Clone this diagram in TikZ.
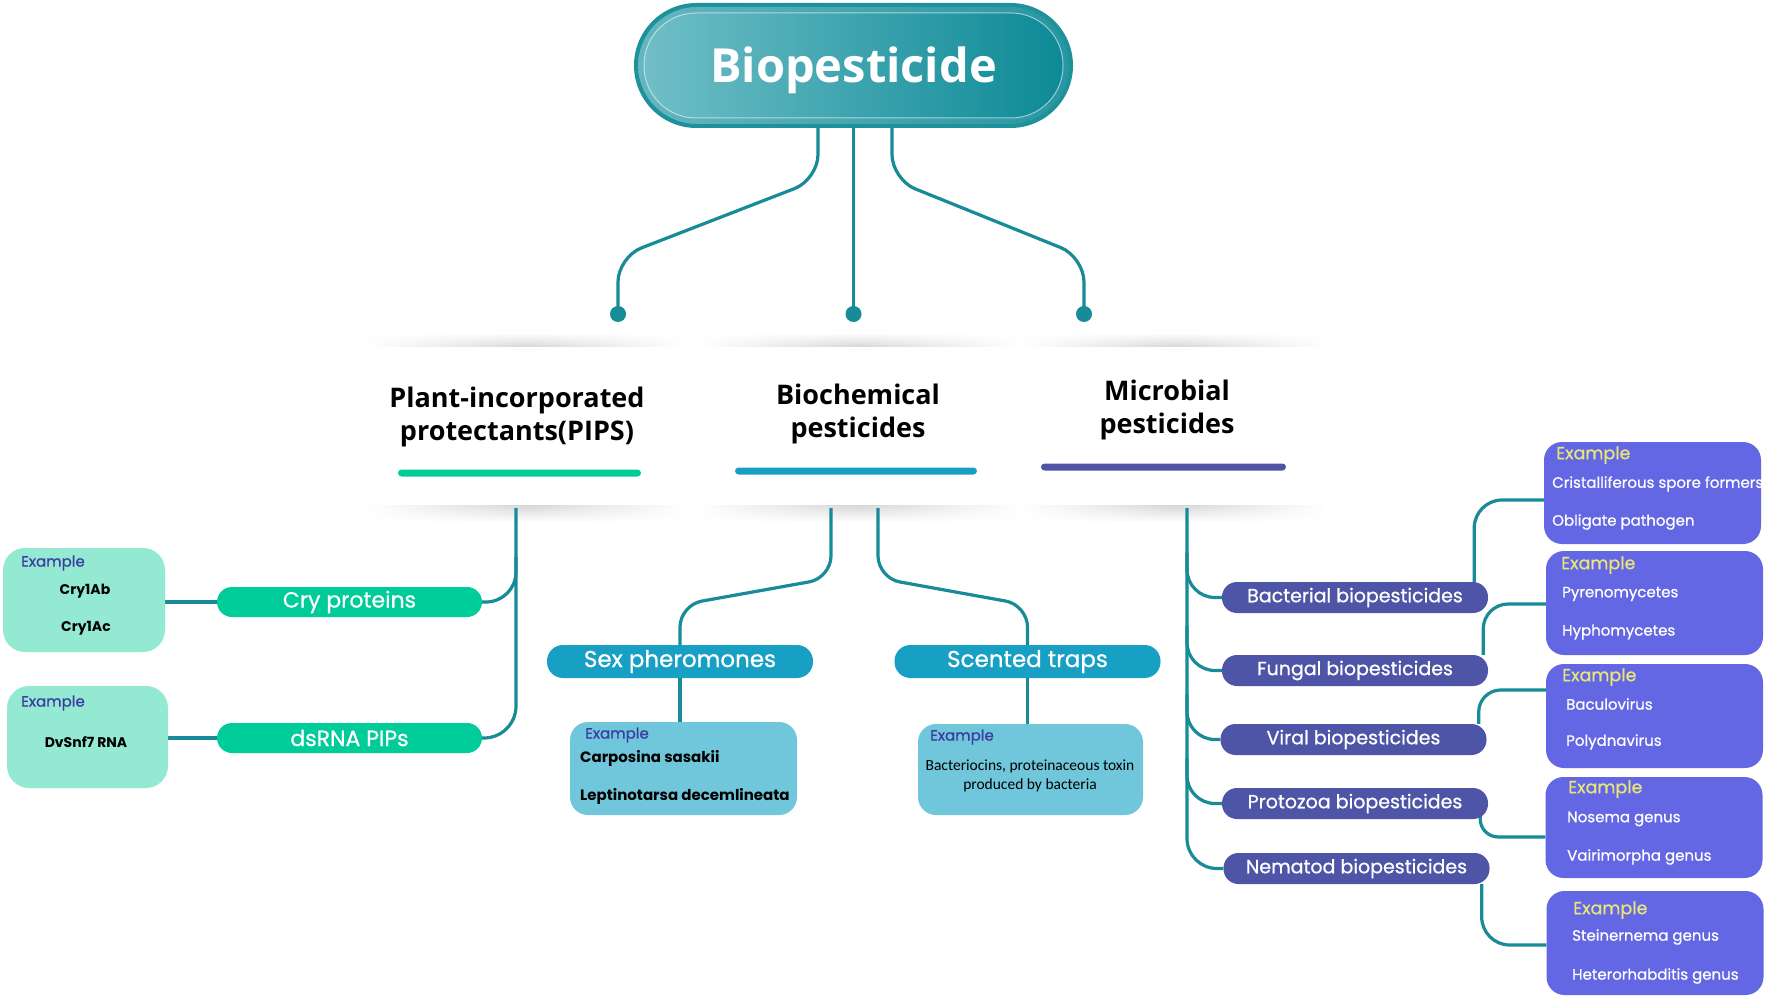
\documentclass[tikz,border=0pt]{standalone}
\usepackage{fontspec}
\setmainfont{Open Sans}
\newfontfamily\pop{Poppins}
\newfontfamily\popm{Poppins}[FakeBold=0.7]
\newfontfamily\carl{Carlito}
\usetikzlibrary{calc,fadings}
\definecolor{conncol}{RGB}{24,139,152}
\definecolor{cgreen}{RGB}{0,204,153}
\definecolor{cmint}{RGB}{148,233,211}
\definecolor{cblue}{RGB}{24,160,196}
\definecolor{clblue}{RGB}{112,198,218}
\definecolor{cind}{RGB}{79,85,166}
\definecolor{cviol}{RGB}{99,103,228}
\definecolor{cyel}{RGB}{232,230,122}
\definecolor{cdkb}{RGB}{60,60,160}
\definecolor{tealA}{RGB}{30,145,155}
\definecolor{ringL}{RGB}{100,182,192}
\definecolor{ringR}{RGB}{40,150,162}
\definecolor{gradL}{RGB}{112,190,199}
\definecolor{gradR}{RGB}{12,138,150}
\tikzfading[name=sidefade, left color=transparent!100, right color=transparent!100, middle color=transparent!0]
\pgfdeclarelayer{back}
\pgfdeclarelayer{mid}
\pgfsetlayers{back,mid,main}
\tikzset{
  conn/.style={draw=conncol, line width=3.2pt},
  dot/.style={circle, fill=conncol, minimum size=16pt, inner sep=0pt},
  pill/.style={rectangle, rounded corners=15pt, minimum height=30pt, inner sep=0pt, text=white},
  gpill/.style={pill, fill=cgreen, minimum width=265pt, font=\popm\fontsize{22}{22}\selectfont},
  bpill/.style={pill, fill=cblue, minimum width=266pt, minimum height=33pt, rounded corners=16pt, font=\popm\fontsize{23}{23}\selectfont},
  ipill/.style={pill, fill=cind, minimum width=266pt, minimum height=31pt, font=\popm\fontsize{19}{19}\selectfont},
  mintbox/.style={rectangle, rounded corners=22pt, fill=cmint, inner sep=0pt},
  lbbox/.style={rectangle, rounded corners=18pt, fill=clblue, inner sep=0pt},
  vbox/.style={rectangle, rounded corners=18pt, fill=cviol, minimum width=217pt, inner sep=0pt},
  exdark/.style={anchor=west, inner sep=0pt, text=cdkb, font=\popm\fontsize{15}{15}\selectfont},
  exyel/.style={anchor=west, inner sep=0pt, text=cyel, font=\popm\fontsize{17.5}{17.5}\selectfont},
  vitem/.style={anchor=west, inner sep=0pt, text=white, font=\popm\fontsize{15}{15}\selectfont},
  bitem/.style={inner sep=0pt, text=black, font=\pop\bfseries\fontsize{14}{14}\selectfont},
  cat/.style={align=center, inner sep=0pt, font=\bfseries\fontsize{27}{33}\selectfont},
  bar/.style={rectangle, rounded corners=3.5pt, minimum height=7pt, inner sep=0pt},
}
\begin{document}
\begin{tikzpicture}[x=1pt,y=-1pt]
\useasboundingbox (0,0) rectangle (1770,1000);

% background and category panels with soft shadow
\begin{pgfonlayer}{back}
\fill[white] (0,0) rectangle (1770,1000);
\foreach \xa/\xb in {368/684, 698/1018, 1024/1326}{
  \shade[top color=white, bottom color=black!16, path fading=sidefade] (\xa,333) rectangle (\xb,347);
  \shade[top color=black!16, bottom color=white, path fading=sidefade] (\xa,505) rectangle (\xb,522);
}
\end{pgfonlayer}

% title pill
\fill[tealA, rounded corners=62.5pt] (634,3) rectangle (1073,128);
\shade[left color=ringL, right color=ringR, rounded corners=59pt] (638,7) rectangle (1069,124);
\node[rounded corners=52pt, minimum width=419pt, minimum height=105pt, left color=gradL, right color=gradR, draw=white, draw opacity=0.55, line width=1pt] (top) at (853.5,65.5) {};
\node[inner sep=0pt, text=white, font=\bfseries\fontsize{47}{47}\selectfont] (title) at (853.5,70) {Biopesticide};

\node[dot] (dotL) at (618,314) {};
\node[dot] (dotM) at (853.5,314) {};
\node[dot] (dotR) at (1084,314) {};

% categories
\node[cat] (catP) at (517,417) {Plant-incorporated\\protectants(PIPS)};
\node[cat] (catB) at (858,414) {Biochemical\\pesticides};
\node[cat] (catM) at (1167,410) {Microbial\\pesticides};
\node[bar, fill=cgreen, minimum width=243pt] (barP) at (519.5,473) {};
\node[bar, fill=cblue, minimum width=242pt] (barB) at (856,471) {};
\node[bar, fill=cind, minimum width=245pt] (barM) at (1163.5,467) {};
\coordinate (pS) at (516,508);
\coordinate (bS1) at (831,508);
\coordinate (bS2) at (878,508);
\coordinate (mS) at (1187,508);

% PIPS branch
\node[gpill] (cry) at (349.5,602) {Cry proteins};
\node[gpill] (dsrna) at (349.5,738) {dsRNA PIPs};
\node[mintbox, minimum width=162pt, minimum height=104pt] (exCry) at (84,600) {};
\node[exdark] (exCryL) at (21,563) {Example};
\node[bitem] (cry1ab) at (85,591) {Cry1Ab};
\node[bitem] (cry1ac) at (86,628) {Cry1Ac};
\node[mintbox, minimum width=161pt, minimum height=102pt] (exDs) at (87.5,737) {};
\node[exdark] (exDsL) at (21,703) {Example};
\node[bitem] (dvsnf) at (86,742) {DvSnf7 RNA};

% Biochemical branch
\node[bpill] (sex) at (680,661.5) {Sex pheromones};
\node[bpill] (scent) at (1027.5,661.5) {Scented traps};
\node[lbbox, minimum width=227pt, minimum height=93pt] (exSex) at (683.5,768.5) {};
\node[exdark] (exSexL) at (585,735) {Example};
\node[bitem, anchor=west, font=\pop\bfseries\fontsize{15}{15}\selectfont] (carp) at (580,758) {Carposina sasakii};
\node[bitem, anchor=west, font=\pop\bfseries\fontsize{15}{15}\selectfont] (lept) at (580,796) {Leptinotarsa decemlineata};
\node[lbbox, minimum width=225pt, minimum height=91pt] (exSc) at (1030.5,769.5) {};
\node[exdark] (exScL) at (930,737) {Example};
\node[align=center, inner sep=0pt, font=\carl\fontsize{15.5}{19}\selectfont] (bact) at (1030,776) {Bacteriocins, proteinaceous toxin\\produced by bacteria};

% Microbial branch
\node[ipill] (bac) at (1355,597.5) {Bacterial biopesticides};
\node[ipill] (fun) at (1355,670.5) {Fungal biopesticides};
\node[ipill] (vir) at (1353.5,739.5) {Viral biopesticides};
\node[ipill] (pro) at (1355,803.5) {Protozoa biopesticides};
\node[ipill] (nem) at (1356.5,868.5) {Nematod biopesticides};

\node[vbox, minimum height=102pt] (ex1) at (1652.5,493) {};
\node[exyel] (ex1L) at (1556,455) {Example};
\node[vitem] (ex1a) at (1552,484) {Cristalliferous spore formers};
\node[vitem] (ex1b) at (1552,522) {Obligate pathogen};
\node[vbox, minimum height=104pt] (ex2) at (1654.5,603) {};
\node[exyel] (ex2L) at (1561,565) {Example};
\node[vitem] (ex2a) at (1562,594) {Pyrenomycetes};
\node[vitem] (ex2b) at (1562,632) {Hyphomycetes};
\node[vbox, minimum height=104pt] (ex3) at (1654.5,716) {};
\node[exyel] (ex3L) at (1562,677) {Example};
\node[vitem] (ex3a) at (1566,704) {Baculovirus};
\node[vitem] (ex3b) at (1566,742) {Polydnavirus};
\node[vbox, minimum height=101pt] (ex4) at (1654,827.5) {};
\node[exyel] (ex4L) at (1568,789) {Example};
\node[vitem] (ex4a) at (1567,819) {Nosema genus};
\node[vitem] (ex4b) at (1567,857) {Vairimorpha genus};
\node[vbox, minimum height=104pt] (ex5) at (1655,943) {};
\node[exyel] (ex5L) at (1573,910) {Example};
\node[vitem] (ex5a) at (1572,937) {Steinernema genus};
\node[vitem] (ex5b) at (1572,976) {Heterorhabditis genus};

% connectors
\begin{pgfonlayer}{mid}
\draw[conn, rounded corners=25pt] ([xshift=-35.5pt]top.south) -- ++(0,61) -- (618,257) -- (dotL.center);
\draw[conn] (top.south) -- (dotM.center);
\draw[conn, rounded corners=25pt] ([xshift=38.5pt]top.south) -- ++(0,61) -- (1084,257) -- (dotR.center);

\draw[conn, rounded corners=32pt] (pS) -- (pS |- dsrna.east) -- (dsrna.east);
\draw[conn, rounded corners=30pt] ($(pS |- cry.east)+(0,-45)$) -- (pS |- cry.east) -- (cry.east);
\draw[conn] (exCry.east |- cry.west) -- (cry.west);
\draw[conn] (exDs.east |- dsrna.west) -- (dsrna.west);

\draw[conn, rounded corners=22pt] (bS1) -- (831,578) -- (sex.north |- 0,605) -- (sex.north);
\draw[conn, rounded corners=22pt] (bS2) -- (878,578) -- (scent.north |- 0,605) -- (scent.north);
\draw[conn] (sex.south) -- (sex.south |- exSex.north);
\draw[conn] (scent.south) -- (scent.south |- exSc.north);

\draw[conn, rounded corners=30pt] (mS) -- (mS |- nem.west) -- (nem.west);
\foreach \n in {bac,fun,vir,pro}{
  \draw[conn, rounded corners=28pt] ($(mS |- \n.west)+(0,-45)$) -- (mS |- \n.west) -- (\n.west);
}
\draw[conn, rounded corners=28pt] ([xshift=-14pt]bac.north east) |- (ex1.west |- 0,500);
\draw[conn, rounded corners=25pt] ([xshift=-5pt]fun.north east) |- (ex2.west |- 0,604);
\draw[conn, rounded corners=22pt] ([xshift=-8pt]vir.north east) |- (ex3.west |- 0,690);
\draw[conn, rounded corners=18pt] ([xshift=-8pt,yshift=10pt]pro.south east) |- (ex4.west |- 0,837);
\draw[conn, rounded corners=28pt] ([xshift=-8pt]nem.south east) |- (ex5.west |- 0,945);
\end{pgfonlayer}
\end{tikzpicture}
\end{document}
